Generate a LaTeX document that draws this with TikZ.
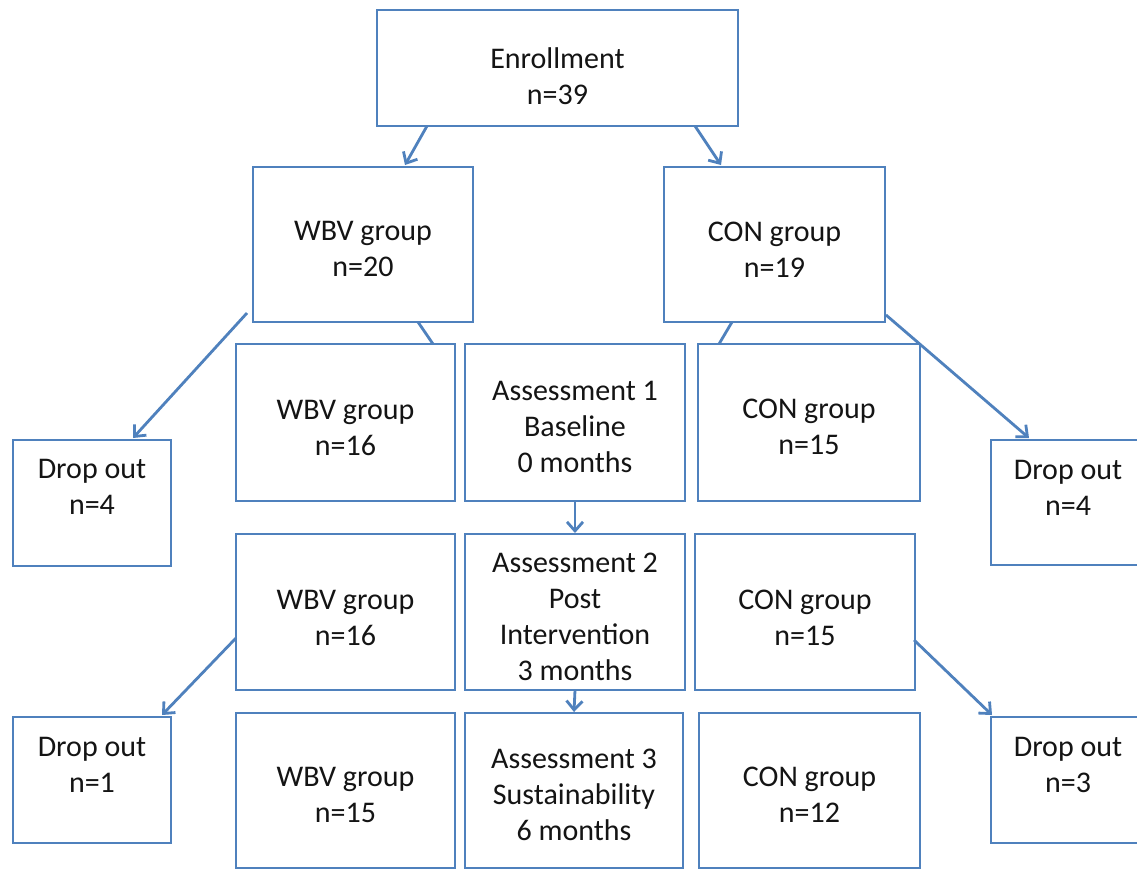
\documentclass[tikz,border=0pt]{standalone}
\usepackage{fontspec}
\setmainfont{Carlito}
\usetikzlibrary{arrows.meta}
\definecolor{lineblue}{RGB}{79,129,189}
\newcommand\flowbox[7]{%
  \node[bx, minimum width={(#4-#2)*1pt}, minimum height={(#5-#3)*1pt}] (#1) at ({(#2+#4)/2},{(#3+#5)/2}) {};
  \node[txt] (#1t) at ({(#2+#4)/2},#6) {#7};}
\begin{document}
\begin{tikzpicture}[x=1pt,y=-1pt,
  bx/.style={draw=lineblue, line width=1.8pt, fill=white, inner sep=0pt, outer sep=0pt, rectangle},
  txt/.style={align=center, font=\fontsize{30}{36}\selectfont, text=black!92, inner sep=0pt},
  arr/.style={draw=lineblue, line width=2.8pt, -{Straight Barb[length=9pt,width=16pt]}},
  lnk/.style={draw=lineblue, line width=2.8pt}]
\useasboundingbox (0,0) rectangle (1137,871);
\clip (0,0) rectangle (1137,871);
\fill[white] (0,0) rectangle (1137,871);
\flowbox{enr}{377}{10}{738}{126}{76}{Enrollment\\n=39}
\flowbox{wbv0}{253}{167}{473}{322}{249}{WBV group\\n=20}
\flowbox{con0}{664}{167}{885}{322}{250}{CON group\\n=19}
\flowbox{wbv1}{236}{344}{455}{501}{428}{WBV group\\n=16}
\flowbox{as1}{465}{344}{685}{501}{427}{Assessment 1\\Baseline\\0 months}
\flowbox{con1}{698}{344}{920}{501}{427}{CON group\\n=15}
\flowbox{do1}{13}{440}{171}{566}{487}{Drop out\\n=4}
\flowbox{dr1}{991}{440}{1145}{565}{488}{Drop out\\n=4}
\flowbox{wbv2}{236}{534}{455}{690}{618}{WBV group\\n=16}
\flowbox{as2}{465}{534}{685}{690}{617}{Assessment 2\\Post\\Intervention\\3 months}
\flowbox{con2}{695}{534}{915}{690}{618}{CON group\\n=15}
\flowbox{do2}{13}{717}{171}{843}{765}{Drop out\\n=1}
\flowbox{dr2}{991}{717}{1145}{843}{765}{Drop out\\n=3}
\flowbox{wbv3}{236}{713}{455}{868}{795}{WBV group\\n=15}
\flowbox{as3}{465}{713}{683}{868}{795}{Assessment 3\\Sustainability\\6 months}
\flowbox{con3}{699}{713}{920}{868}{795}{CON group\\n=12}
% connectors
\draw[arr] ([shift={(50,0)}]enr.south west) -- ([shift={(152,-2)}]wbv0.north west);
\draw[arr] ([shift={(-43,0)}]enr.south east) -- ([shift={(57,-2)}]con0.north west);
\draw[lnk] ([shift={(-55,0)}]wbv0.south east) -- ([shift={(-22,0)}]wbv1.north east);
\draw[lnk] ([shift={(68,0)}]con0.south west) -- ([shift={(21,0)}]con1.north west);
\draw[arr] ([shift={(-6,-9)}]wbv0.south west) -- ([shift={(120,-2)}]do1.north west);
\draw[arr] ([shift={(1,-7)}]con0.south east) -- ([shift={(38,-2)}]dr1.north west);
\draw[arr] (as1.south) -- ([yshift=1pt]as2.north);
\draw[arr] (as2.south) -- ([yshift=1pt]as3.north);
\draw[arr] ([shift={(0,-52)}]wbv2.south west) -- ([shift={(-9,-2)}]do2.north east);
\draw[arr] ([shift={(-1,-50)}]con2.south east) -- ([shift={(1,-2)}]dr2.north west);
\end{tikzpicture}
\end{document}
